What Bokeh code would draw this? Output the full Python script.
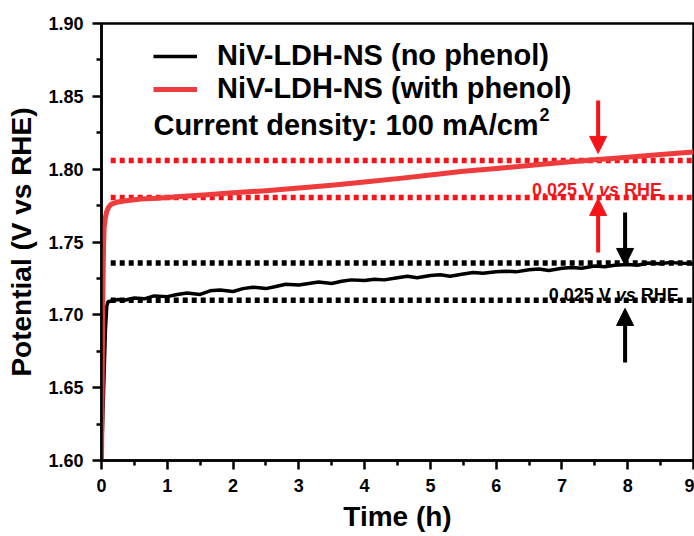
from bokeh.plotting import figure
from bokeh.models import (Range1d, FixedTicker, NumeralTickFormatter, Legend, LegendItem,
                          Label, Arrow, NormalHead)
from bokeh.embed import file_html
from bokeh.resources import INLINE

# ---------------- data ----------------
time_no_phenol = [0.0, 0.02, 0.04, 0.06, 0.08, 0.10, 0.15, 0.25, 0.35, 0.50, 0.65, 0.80,
                  1.00, 1.15, 1.30, 1.50, 1.65, 1.80, 2.00, 2.15, 2.30, 2.50, 2.65, 2.80,
                  3.00, 3.15, 3.30, 3.50, 3.65, 3.80, 4.00, 4.15, 4.30, 4.50, 4.65, 4.80,
                  5.00, 5.15, 5.30, 5.50, 5.65, 5.80, 6.00, 6.15, 6.30, 6.50, 6.65, 6.80,
                  7.00, 7.15, 7.30, 7.50, 7.65, 7.80, 8.00, 8.15, 8.30, 8.50, 8.65, 8.80, 9.00]
pot_no_phenol = [1.600, 1.630, 1.660, 1.690, 1.706, 1.709, 1.7095, 1.7105, 1.7100, 1.7115, 1.7110, 1.7130,
                 1.7125, 1.7140, 1.7150, 1.7140, 1.7165, 1.7170, 1.7160, 1.7180, 1.7190, 1.7180, 1.7195, 1.7210,
                 1.7205, 1.7215, 1.7225, 1.7215, 1.7230, 1.7240, 1.7235, 1.7245, 1.7240, 1.7255, 1.7265, 1.7255,
                 1.7270, 1.7275, 1.7265, 1.7280, 1.7290, 1.7285, 1.7295, 1.7300, 1.7295, 1.7310, 1.7315, 1.7305,
                 1.7320, 1.7325, 1.7320, 1.7335, 1.7330, 1.7340, 1.7345, 1.7340, 1.7355, 1.7350, 1.7360, 1.7355, 1.7350]

time_phenol = [0.0, 0.01, 0.02, 0.03, 0.04, 0.06, 0.08, 0.11, 0.15, 0.25, 0.40, 0.60, 0.85,
               1.2, 1.6, 2.0, 2.5, 3.0, 3.5, 4.0, 4.5, 5.0, 5.5, 6.0, 6.5, 7.0, 7.5, 8.0, 8.5, 9.0]
pot_phenol = [1.600, 1.650, 1.710, 1.745, 1.760, 1.767, 1.771, 1.774, 1.776, 1.7775, 1.7785, 1.7795, 1.7800,
              1.7813, 1.7825, 1.7838, 1.7852, 1.7870, 1.7890, 1.7912, 1.7935, 1.7960, 1.7985, 1.8005,
              1.8025, 1.8045, 1.8065, 1.8082, 1.8100, 1.8118]

# dotted reference levels (0.025 V windows)
ref_span = [0.14, 9.0]
ref_levels_no_phenol = [1.7100, 1.7355]
ref_levels_phenol = [1.7806, 1.8060]

# arrows: (x, y_start, y_end)
arrows_phenol = [(7.55, 1.8471, 1.8108), (7.55, 1.7428, 1.7799)]
arrows_no_phenol = [(7.96, 1.7703, 1.7339), (7.96, 1.6673, 1.7044)]

x_ticks = [0, 1, 2, 3, 4, 5, 6, 7, 8, 9]
x_minor = [0.5, 1.5, 2.5, 3.5, 4.5, 5.5, 6.5, 7.5, 8.5]
y_ticks = [1.60, 1.65, 1.70, 1.75, 1.80, 1.85, 1.90]
y_minor = [1.625, 1.675, 1.725, 1.775, 1.825, 1.875]

series_labels = ["NiV-LDH-NS (no phenol)", "NiV-LDH-NS (with phenol)"]
note_text = "Current density: 100 mA/cm"
note_superscript = "2"
x_label = "Time (h)"
y_label = "Potential (V vs RHE)"

# ---------------- styling ----------------
FONT = "Liberation Sans"
BLACK = "#000000"
RED_CURVE = "#ee3b3b"
RED = "#f5141a"

p = figure(width=694, height=536, x_range=Range1d(0, 9), y_range=Range1d(1.60, 1.90),
           output_backend="svg", toolbar_location=None,
           min_border_left=101, min_border_right=1, min_border_top=23, min_border_bottom=76)
p.background_fill_color = "white"
p.border_fill_color = "white"
p.grid.visible = False
p.outline_line_color = BLACK
p.outline_line_width = 2.5

for ax in (p.xaxis[0], p.yaxis[0]):
    ax.axis_line_width = 2.5
    ax.major_tick_line_width = 2.5
    ax.minor_tick_line_width = 2.5
    ax.major_tick_in = 0
    ax.minor_tick_in = 0
    ax.major_tick_out = 9
    ax.minor_tick_out = 5
    ax.major_label_standoff = 9
    ax.major_label_text_font = FONT
    ax.major_label_text_font_style = "bold"
    ax.major_label_text_font_size = "18px"
    ax.major_label_text_color = BLACK
    ax.axis_label_text_font = FONT
    ax.axis_label_text_font_style = "bold"
    ax.axis_label_text_font_size = "28px"
    ax.axis_label_text_color = BLACK

p.xaxis[0].ticker = FixedTicker(ticks=x_ticks, minor_ticks=x_minor)
p.yaxis[0].ticker = FixedTicker(ticks=y_ticks, minor_ticks=y_minor)
p.yaxis[0].formatter = NumeralTickFormatter(format="0.00")
p.xaxis[0].axis_label = x_label
p.yaxis[0].axis_label = y_label
p.xaxis[0].axis_label_standoff = 6
p.yaxis[0].axis_label_standoff = 8

# dotted windows
for lvl in ref_levels_no_phenol:
    p.line(ref_span, [lvl, lvl], line_color=BLACK, line_width=5.5, line_dash="5 4")
for lvl in ref_levels_phenol:
    p.line(ref_span, [lvl, lvl], line_color=RED, line_width=5.5, line_dash="5 4")

# curves
r_no = p.line(time_no_phenol, pot_no_phenol, line_color=BLACK, line_width=3.5, line_join="round")
r_ph = p.line(time_phenol, pot_phenol, line_color=RED_CURVE, line_width=5, line_join="round")

# arrows
for (ax_, y0, y1) in arrows_phenol:
    p.add_layout(Arrow(x_start=ax_, y_start=y0, x_end=ax_, y_end=y1, line_color=RED, line_width=4,
                       end=NormalHead(size=17, fill_color=RED, line_color=RED, line_width=1)))
for (ax_, y0, y1) in arrows_no_phenol:
    p.add_layout(Arrow(x_start=ax_, y_start=y0, x_end=ax_, y_end=y1, line_color=BLACK, line_width=4,
                       end=NormalHead(size=17, fill_color=BLACK, line_color=BLACK, line_width=1)))

# "0.025 V vs RHE" labels with italic "vs"
def window_label(x, y, color):
    fs = 18
    w1 = 3.725 * fs   # "0.025 V " in Arial bold
    w2 = 1.112 * fs   # "vs"
    sp = 0.278 * fs
    parts = [("0.025 V", "bold", 0), ("vs", "bold italic", w1), ("RHE", "bold", w1 + w2 + sp)]
    for txt, style, off in parts:
        p.add_layout(Label(x=x, y=y, x_offset=off, text=txt, text_font=FONT, text_font_style=style,
                           text_font_size=f"{fs}px", text_color=color, text_baseline="alphabetic"))

window_label(6.545, 1.7854, RED)
window_label(6.80, 1.7133, BLACK)

# note with superscript
p.add_layout(Label(x=0.79, y=1.8301, text=note_text, text_font=FONT, text_font_style="bold",
                   text_font_size="29px", text_color=BLACK, text_baseline="alphabetic"))
p.add_layout(Label(x=0.79, y=1.8301, x_offset=13.281 * 29 + 1, y_offset=11, text=note_superscript,
                   text_font=FONT, text_font_style="bold", text_font_size="18px", text_color=BLACK,
                   text_baseline="alphabetic"))

legend = Legend(items=[LegendItem(label=series_labels[0], renderers=[r_no]),
                       LegendItem(label=series_labels[1], renderers=[r_ph])],
                location=(52, 355), padding=0, spacing=0, margin=0,
                glyph_width=44, label_standoff=20,
                label_text_font=FONT, label_text_font_style="bold", label_text_font_size="29px",
                label_text_color=BLACK, border_line_alpha=0, background_fill_alpha=0)
p.add_layout(legend)

open("out.html", "w").write(file_html(p, INLINE))
